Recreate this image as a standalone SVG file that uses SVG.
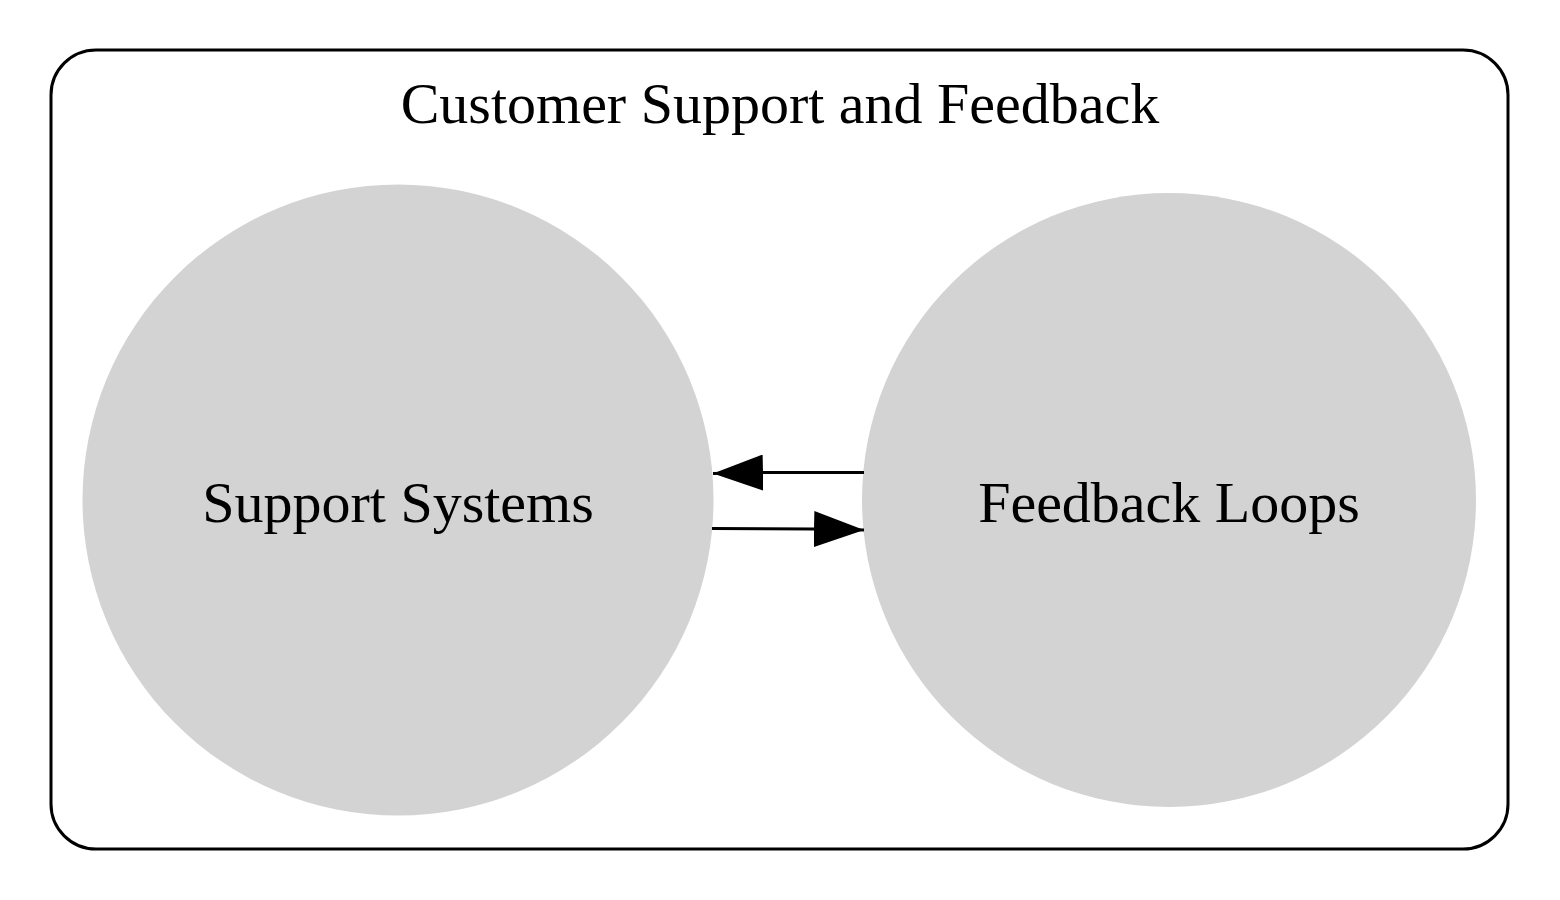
<svg xmlns="http://www.w3.org/2000/svg" width="1560" height="900" viewBox="0 0 1560 900">
<style>
text{font-family:"Liberation Serif","Times New Roman",serif;fill:#000;text-anchor:middle}
.title{font-size:58px}
.lbl{font-size:58px}
.node{fill:#d3d3d3;stroke:none}
.edge{stroke:#000;stroke-width:3;fill:none}
</style>
<defs>
<marker id="ah" markerUnits="userSpaceOnUse" markerWidth="52" markerHeight="36" refX="50" refY="18" orient="auto">
<path d="M0,0 L50,18 L0,36 Z" fill="#000"/>
</marker>
</defs>
<rect x="51" y="50" width="1457" height="799" rx="45" ry="45" fill="#fff" stroke="#000" stroke-width="3"/>
<text class="title" x="780" y="123">Customer Support and Feedback</text>
<g id="node-support">
<circle class="node" cx="398" cy="500" r="315.5"/>
<text class="lbl" x="398" y="522">Support Systems</text>
</g>
<g id="node-feedback">
<circle class="node" cx="1169" cy="500" r="307"/>
<text class="lbl" x="1169" y="522">Feedback Loops</text>
</g>
<g id="connectors">
<path class="edge" d="M864,472.5 L763,472.5 L713,473.5" marker-end="url(#ah)"/>
<path class="edge" d="M712,528.5 L814,529 L864,530" marker-end="url(#ah)"/>
</g>
</svg>
